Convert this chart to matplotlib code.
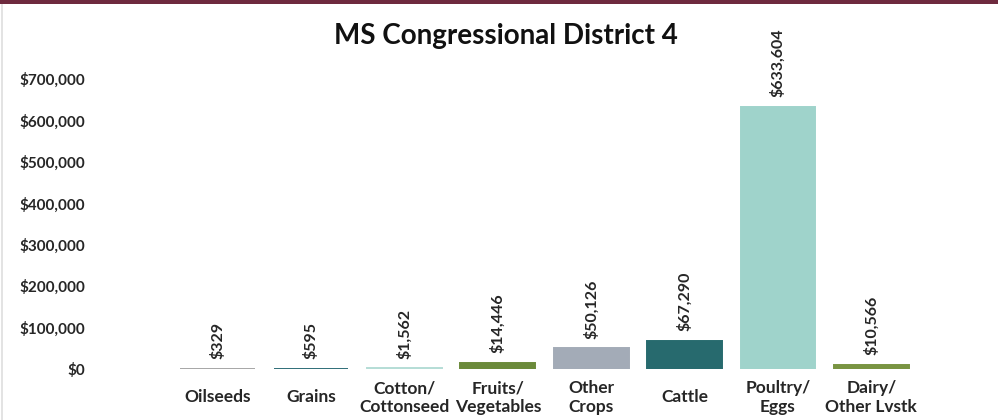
import matplotlib
matplotlib.use("Agg")
import matplotlib.pyplot as plt
from matplotlib.patches import Rectangle
from matplotlib.ticker import FuncFormatter

categories = ["Oilseeds", "Grains", "Cotton/\nCottonseed", "Fruits/\nVegetables",
              "Other\nCrops", "Cattle", "Poultry/\nEggs", "Dairy/\nOther Lvstk"]
values = [329, 595, 1562, 14446, 50126, 67290, 633604, 10566]
colors = ["#A6A6A6", "#2F6E78", "#B5DDD6", "#6B8A3A", "#A3ABB7", "#276A6E", "#9FD3CB", "#799442"]
yticks = [0, 100000, 200000, 300000, 400000, 500000, 600000, 700000]
title = "MS Congressional District 4"

plt.rcParams['font.family'] = ['Lato', 'DejaVu Sans']

fig = plt.figure(figsize=(9.98, 4.2), dpi=100)
fig.patch.set_facecolor("white")

# top maroon band and left border
fig.add_artist(Rectangle((0, 1 - 4/420), 1, 4/420, transform=fig.transFigure,
                         facecolor="#6E2A3E", edgecolor="none"))
fig.add_artist(Rectangle((1/998, 0), 2/998, 1 - 4/420, transform=fig.transFigure,
                         facecolor="#E3E3E3", edgecolor="none"))

ax = fig.add_axes([171/998, 1 - 369/420, 747/998, 290/420])
x = list(range(len(categories)))
ax.bar(x, values, width=0.8, color=colors, edgecolor=colors, linewidth=1.4)

ax.set_xlim(-0.5, len(categories) - 0.5)
ax.set_ylim(0, 700000)
ax.set_yticks(yticks)
ax.yaxis.set_major_formatter(FuncFormatter(lambda v, p: "${:,.0f}".format(v)))
ax.tick_params(axis='y', length=0, pad=62, labelsize=11, labelcolor="#262626")
for lbl in ax.get_yticklabels():
    lbl.set_fontweight("bold")
ax.set_xticks(x)
ax.set_xticklabels([])
ax.tick_params(axis='x', length=0)
for s in ax.spines.values():
    s.set_visible(False)

for xi, (c, v) in enumerate(zip(categories, values)):
    ax.annotate("${:,}".format(v), (xi, v), xytext=(0, 7), textcoords="offset points",
                rotation=90, ha="center", va="bottom", fontsize=11.5,
                fontweight="bold", color="#262626", annotation_clip=False)
    ax.annotate(c, (xi, 0), xytext=(0, -20.5), textcoords="offset points",
                ha="center", va="center", fontsize=12.5, fontweight="bold",
                color="#262626", linespacing=1.2, annotation_clip=False)

fig.text(506/998, 1 - 36/420, title, ha="center", va="center",
         fontsize=20, fontweight="bold", color="#111111")

fig.savefig("out.png", dpi=100, facecolor="white")
